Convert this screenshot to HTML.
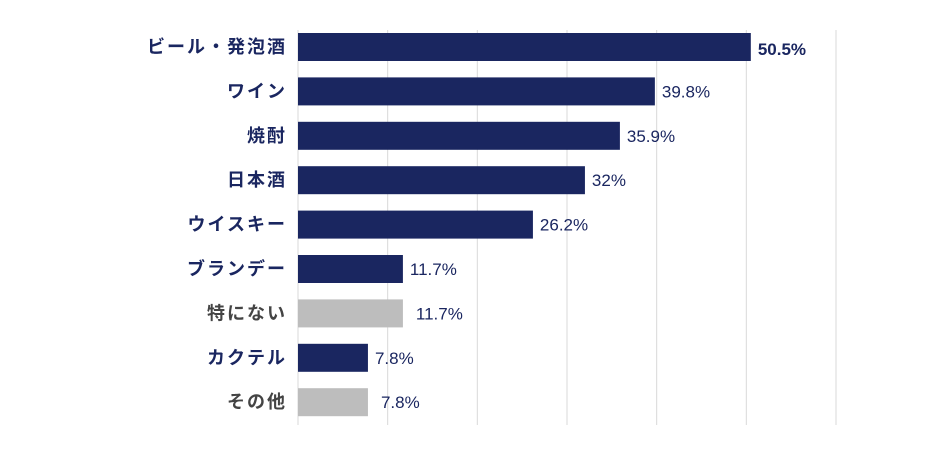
<!DOCTYPE html>
<html><head><meta charset="utf-8"><style>
html,body{margin:0;padding:0;background:#fff;}
svg{display:block;}
.cat{font-family:"Liberation Sans","Noto Sans CJK JP",sans-serif;font-weight:bold;font-size:18px;letter-spacing:2px;}
.val{font-family:"Liberation Sans Narrow","Liberation Sans",sans-serif;font-size:17px;fill:#1a2660;}
</style></head><body>
<svg id="chart" width="930" height="462" xmlns="http://www.w3.org/2000/svg"></svg>
<script>
const categories=["ビール・発泡酒","ワイン","焼酎","日本酒","ウイスキー","ブランデー","特にない","カクテル","その他"];
const values=[50.5,39.8,35.9,32,26.2,11.7,11.7,7.8,7.8];
const valueLabels=["50.5%","39.8%","35.9%","32%","26.2%","11.7%","11.7%","7.8%","7.8%"];
const isOther=[false,false,false,false,false,false,true,false,true];
const gridTicks=[0,10,20,30,40,50,60];
const svg=document.getElementById('chart');
const NS="http://www.w3.org/2000/svg";
const x0=298,xMax=836,vMax=60;
const x=v=>x0+(v/vMax)*(xMax-x0);
const rowTop=33,rowStep=44.4,barH=28;
const yC=i=>rowTop+barH/2+i*rowStep;
function mk(t,a){const e=document.createElementNS(NS,t);for(const k in a)e.setAttribute(k,a[k]);svg.appendChild(e);return e;}
gridTicks.forEach(t=>{
  const l=mk('line',{x1:x(t),x2:x(t),y1:30,y2:425,stroke:'#d9d9d9','stroke-width':1});
  
  
});
categories.forEach((c,i)=>{
  const cy=yC(i);
  const r=mk('rect',{x:x0,y:cy-barH/2,width:x(values[i])-x0,height:barH,fill:isOther[i]?'#bdbdbd':'#1a2660'});
  
  
  const t=mk('text',{x:287,y:cy+6,'text-anchor':'end',class:'cat',fill:isOther[i]?'#444':'#1a2660'});
  t.textContent=c;
  
  
  const big=i===0;
  const v=mk('text',{x:x(values[i])+(isOther[i]?13:7),y:cy+(big?8:6),class:'val'});
  if(big){v.setAttribute('font-size','23');v.setAttribute('font-weight','bold');}
  v.textContent=valueLabels[i];
  
  
});
</script>
</body></html>
